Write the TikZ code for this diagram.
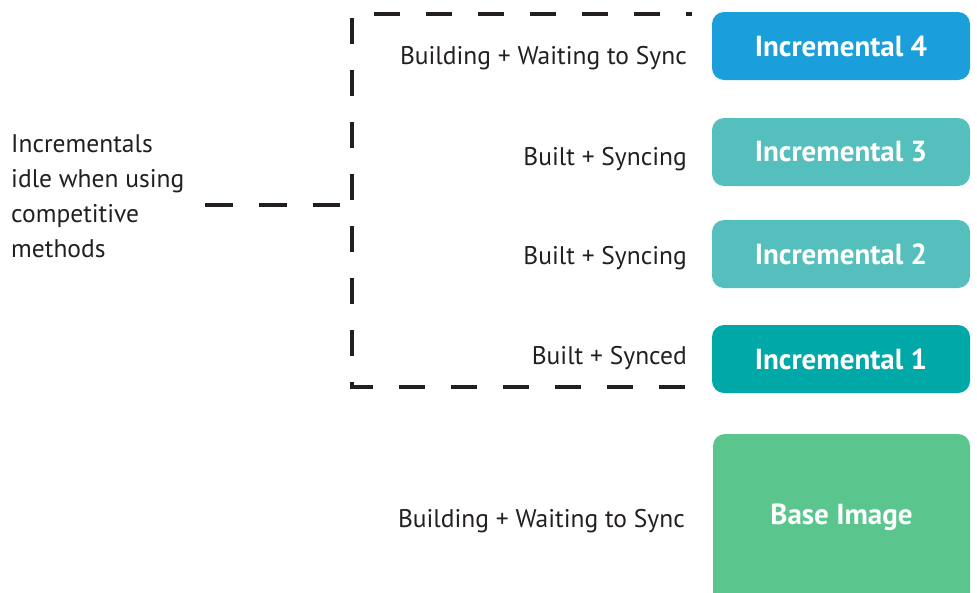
\documentclass[tikz,border=0pt]{standalone}
\usepackage{fontspec}
\setmainfont{PT Sans}
\definecolor{txt}{HTML}{231F20}
\definecolor{cfour}{HTML}{1B9FDB}
\definecolor{cmid}{HTML}{55BFBD}
\definecolor{cone}{HTML}{00A9A8}
\definecolor{cbase}{HTML}{5AC68E}
\tikzset{
  box/.style={rounded corners=12pt, minimum width=258pt, minimum height=68pt, inner sep=0pt,
    text=white, font=\fontsize{29}{33}\selectfont\bfseries},
  lbl/.style={anchor=east, inner sep=0pt, text=txt, font=\fontsize{25.5}{30}\selectfont},
  dashline/.style={line width=3.5pt, draw=txt, dash pattern=on 26pt off 26pt}
}
\begin{document}
\begin{tikzpicture}[x=1pt,y=-1pt]
\useasboundingbox (0,0) rectangle (977,592);
\clip (0,0) rectangle (977,592);
% boxes
\node[box, fill=cfour] (i4) at (841,46) {Incremental 4};
\node[box, fill=cmid] (i3) at (841,152) {Incremental 3};
\node[box, fill=cmid] (i2) at (841,254) {Incremental 2};
\node[box, fill=cone] (i1) at (841,359) {Incremental 1};
\fill[cbase, rounded corners=12pt] (713,434) rectangle (970,640);
\node[inner sep=0pt, text=white, font=\fontsize{29}{33}\selectfont\bfseries] (base) at (841.5,517) {Base Image};
% state labels
\node[lbl] (l4) at (687,58) {Building + Waiting to Sync};
\node[lbl] (l3) at (687,159) {Built + Syncing};
\node[lbl] (l2) at (687,258) {Built + Syncing};
\node[lbl] (l1) at (687,358) {Built + Synced};
\node[lbl] (lb) at (685,521) {Building + Waiting to Sync};
% left text
\node[anchor=north west, inner sep=0pt, text=txt, align=left,
  font=\fontsize{25.5}{35}\selectfont] (note) at (11,134) {Incrementals\\idle when using\\competitive\\methods};
% dashed bracket
\coordinate (tr) at (692,14);
\coordinate (tl) at (352,14);
\coordinate (bl) at (352,387);
\coordinate (br) at (698,387);
\draw[dashline, dash phase=20pt] (tr) -- (tl) -- (bl) -- (br);
\coordinate (c1) at (205,205);
\coordinate (c2) at (340,205);
\draw[dashline, dash pattern=on 28pt off 26pt] (c1) -- (c2);
\end{tikzpicture}
\end{document}
